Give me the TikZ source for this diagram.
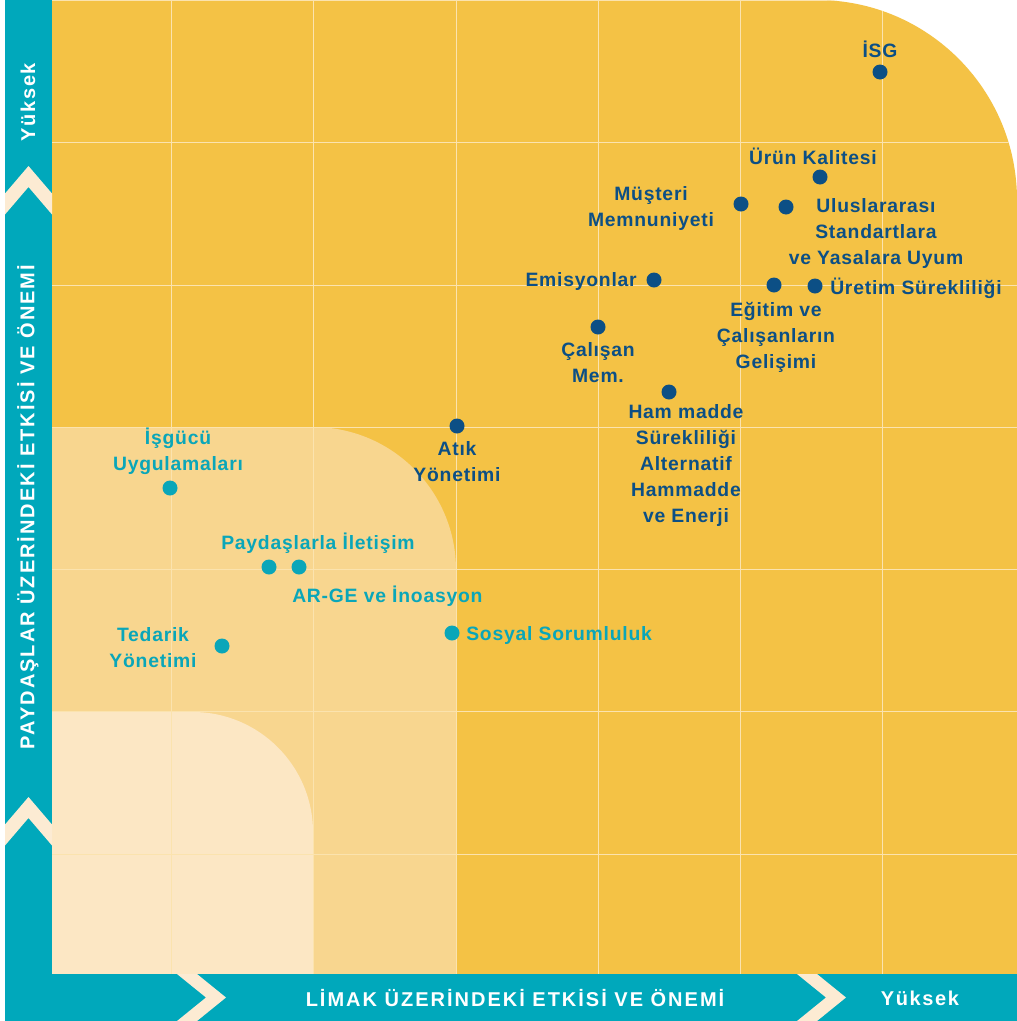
\documentclass[tikz,border=0pt]{standalone}
\usepackage{fontspec}
\setmainfont{Liberation Sans}[LetterSpace=4]
\newfontfamily\axisfont[LetterSpace=10]{Liberation Sans}
\newfontfamily\highfont[LetterSpace=8]{Liberation Sans}
\definecolor{bgorange}{HTML}{F4C245}
\definecolor{midzone}{HTML}{F8D68F}
\definecolor{lowzone}{HTML}{FCE7C4}
\definecolor{barteal}{HTML}{00A8BB}
\definecolor{chevcream}{HTML}{FCEBD3}
\definecolor{gridc}{HTML}{FBE3AE}
\definecolor{dkblue}{HTML}{0C4F85}
\definecolor{tealtxt}{HTML}{0AA6B9}
\begin{document}
\begin{tikzpicture}[x=0.75pt,y=-0.75pt,
  lbl/.style={font=\bfseries\fontsize{14.5}{19.5}\selectfont, align=center, inner sep=0pt},
  dk/.style={lbl, text=dkblue},
  tl/.style={lbl, text=tealtxt},
  dkdot/.style={circle, fill=dkblue, minimum size=11.25pt, inner sep=0pt},
  tldot/.style={circle, fill=tealtxt, minimum size=11.25pt, inner sep=0pt},
  gridline/.style={draw=gridc, line width=0.65pt},
  axistext/.style={font=\axisfont\bfseries\fontsize{15}{16}\selectfont, text=white, inner sep=0pt},
  hightext/.style={font=\highfont\bfseries\fontsize{15}{16}\selectfont, text=white, inner sep=0pt}]
\useasboundingbox (0,0) rectangle (1017,1021);
\fill[white] (0,0) rectangle (1017,1021);
% zones
\fill[bgorange] (52,0) -- (817,0) .. controls (927.5,0) and (1017,89.5) .. (1017,200) -- (1017,974) -- (52,974) -- cycle;
\fill[midzone] (52,427) -- (313,427) .. controls (392,427) and (456,491) .. (456,570) -- (456,974) -- (52,974) -- cycle;
\fill[lowzone] (52,712) -- (193,712) .. controls (259,712) and (313,766) .. (313,832) -- (313,974) -- (52,974) -- cycle;
% grid
\begin{scope}
\clip (52,0) -- (817,0) .. controls (927.5,0) and (1017,89.5) .. (1017,200) -- (1017,974) -- (52,974) -- cycle;
\foreach \x in {171,313,456,598,740,882} \draw[gridline] (\x,0) -- (\x,974);
\foreach \y in {0,142,285,427,569,711,854} \draw[gridline] (52,\y) -- (1017,\y);
\end{scope}
% bars
\fill[barteal] (5,0) rectangle (52,1021);
\fill[barteal] (5,974) rectangle (1017,1021);
\begin{scope}
\clip (5,0) rectangle (52,974);
\foreach \t in {166,797}
  \fill[chevcream] (28.5,\t) -- (52,\t+27.5) -- (52,\t+48.5) -- (28.5,\t+21) -- (5,\t+48.5) -- (5,\t+27.5) -- cycle;
\end{scope}
\begin{scope}
\clip (5,974) rectangle (1017,1021);
\foreach \s in {177,797}
  \fill[chevcream] (\s,974) -- (\s+20,974) -- (\s+49,997.5) -- (\s+20,1021) -- (\s,1021) -- (\s+29,997.5) -- cycle;
\end{scope}
% axis texts
\node[hightext, rotate=90] (yhigh) at (28,102) {Yüksek};
\node[axistext, rotate=90] (ytitle) at (28,507) {PAYDAŞLAR ÜZERİNDEKİ ETKİSİ VE ÖNEMİ};
\node[axistext] (xtitle) at (515,998) {LİMAK ÜZERİNDEKİ ETKİSİ VE ÖNEMİ};
\node[hightext] (xhigh) at (920,998) {Yüksek};
% dark points
\node[dkdot] (isg) at (880,72) {};
\node[dk] (isgl) at (880,49) {İSG};
\node[dkdot] (urun) at (820,177) {};
\node[dk] (urunl) at (813,156) {Ürün Kalitesi};
\node[dkdot] (musteri) at (741,204) {};
\node[dk] (musteril) at (651,208) {Müşteri\\Memnuniyeti};
\node[dkdot] (ulus) at (786,207) {};
\node[dk] (ulusl) at (876,233) {Uluslararası\\Standartlara\\ve Yasalara Uyum};
\node[dkdot] (emis) at (654,280) {};
\node[dk, anchor=east] (emisl) at (637,281) {Emisyonlar};
\node[dkdot] (egitim) at (774,285) {};
\node[dk] (egitiml) at (776,337) {Eğitim ve\\Çalışanların\\Gelişimi};
\node[dkdot] (uretim) at (815,286) {};
\node[dk, anchor=west] (uretiml) at (830,288) {Üretim Sürekliliği};
\node[dkdot] (calisan) at (598,327) {};
\node[dk] (calisanl) at (598,363) {Çalışan\\Mem.};
\node[dkdot] (ham) at (669,392) {};
\node[dk] (haml) at (686,465) {Ham madde\\Sürekliliği\\Alternatif\\Hammadde\\ve Enerji};
\node[dkdot] (atik) at (457,426) {};
\node[dk] (atikl) at (457,462) {Atık\\Yönetimi};
% teal points
\node[tldot] (isgucu) at (170,488) {};
\node[tl] (isgucul) at (178,451) {İşgücü\\Uygulamaları};
\node[tldot] (payd) at (269,567) {};
\node[tl] (paydl) at (318,543) {Paydaşlarla İletişim};
\node[tldot] (arge) at (299,567) {};
\node[tl, anchor=west] (argel) at (292,596) {AR-GE ve İnoasyon};
\node[tldot] (tedarik) at (222,646) {};
\node[tl] (tedarikl) at (153,648) {Tedarik\\Yönetimi};
\node[tldot] (sosyal) at (452,633) {};
\node[tl, anchor=west] (sosyall) at (466,635) {Sosyal Sorumluluk};
\end{tikzpicture}
\end{document}
